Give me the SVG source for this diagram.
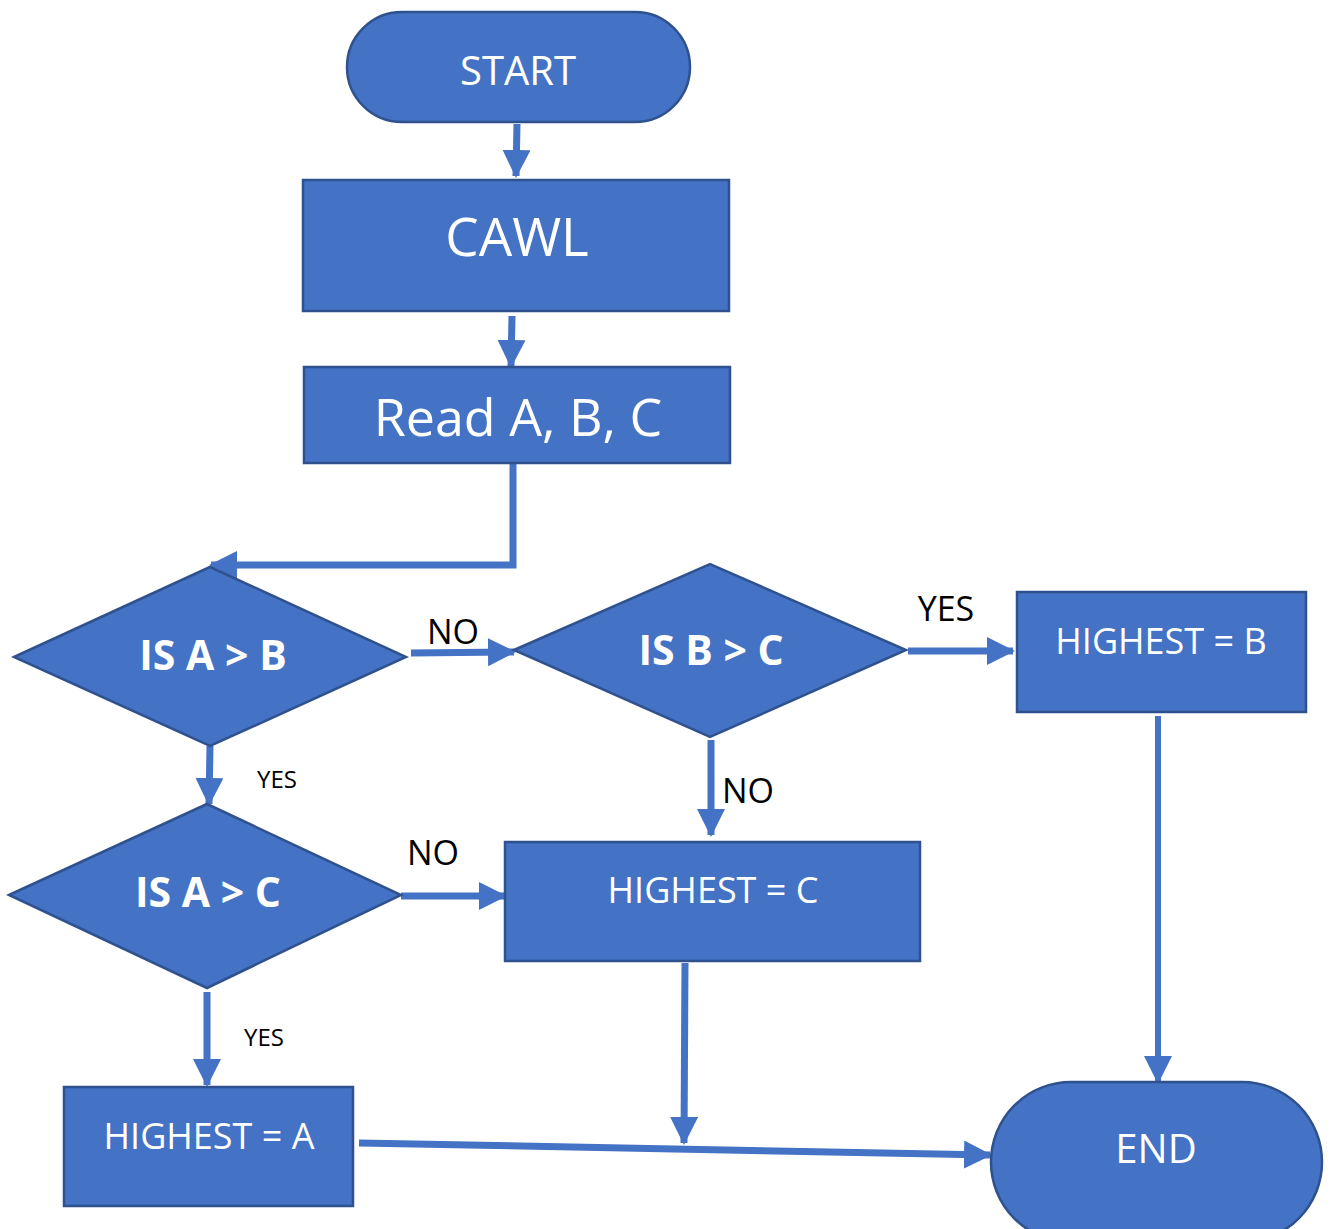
<svg xmlns="http://www.w3.org/2000/svg" width="1333" height="1229" viewBox="0 0 1333 1229">
<defs>
<style>
.n{fill:#4472C4;stroke:#2F528F;stroke-width:2.5}
.t{fill:#fff;font-family:"Open Sans","Liberation Sans",sans-serif;text-anchor:middle;dominant-baseline:central}
.b{font-weight:bold}
.c{fill:none;stroke:#4472C4;stroke-width:7}
.l{fill:#000;font-family:"Open Sans","Liberation Sans",sans-serif;text-anchor:middle;dominant-baseline:central}
</style>
<marker id="ah" markerUnits="userSpaceOnUse" viewBox="0 0 28 28" refX="26" refY="14" markerWidth="28" markerHeight="28" orient="auto">
<path d="M0,0 L28,14 L0,28 Z" fill="#4472C4"/>
</marker>
</defs>
<rect width="1333" height="1229" fill="#fff"/>
<g id="connectors">
<path class="c" d="M517,124 L516,176" marker-end="url(#ah)"/>
<path class="c" d="M512,316 L511,366" marker-end="url(#ah)"/>
<path class="c" d="M513,463 L513,565 L211,565" marker-end="url(#ah)"/>
<path class="c" d="M411,653 L514,652" marker-end="url(#ah)"/>
<path class="c" d="M908,651 L1013,651" marker-end="url(#ah)"/>
<path class="c" d="M1158,716 L1158,1082" marker-end="url(#ah)" style="stroke-width:6"/>
<path class="c" d="M711,740 L711,835" marker-end="url(#ah)"/>
<path class="c" d="M210,746 L209,804" marker-end="url(#ah)"/>
<path class="c" d="M401,896 L505,896" marker-end="url(#ah)"/>
<path class="c" d="M685,963 L684,1143" marker-end="url(#ah)"/>
<path class="c" d="M207,992 L207,1085" marker-end="url(#ah)"/>
<path class="c" d="M359,1143 L990,1155" marker-end="url(#ah)"/>
<text class="l" x="453" y="631" font-size="34">NO</text>
<text class="l" x="946" y="608" font-size="34">YES</text>
<text class="l" x="748" y="790" font-size="34">NO</text>
<text class="l" x="277" y="778" font-size="24">YES</text>
<text class="l" x="433" y="852" font-size="34">NO</text>
<text class="l" x="264" y="1036" font-size="24">YES</text>
</g>
<g id="start"><rect class="n" x="347" y="12" width="343" height="110" rx="55"/><text class="t" x="518" y="69" font-size="40">START</text></g>
<g id="cawl"><rect class="n" x="303" y="180" width="426" height="131"/><text class="t" x="517" y="235" font-size="53">CAWL</text></g>
<g id="read"><rect class="n" x="304" y="367" width="426" height="96"/><text class="t" x="518" y="415" font-size="52">Read A, B, C</text></g>
<g id="isAgtB"><polygon class="n" points="14,657 210,567 406,657 210,746"/><text class="t b" x="213" y="654" font-size="41">IS A &gt; B</text></g>
<g id="isBgtC"><polygon class="n" points="514,650 710,564 906,650 710,737"/><text class="t b" x="711" y="649" font-size="41">IS B &gt; C</text></g>
<g id="highB"><rect class="n" x="1017" y="592" width="289" height="120"/><text class="t" x="1161" y="640" font-size="36">HIGHEST = B</text></g>
<g id="isAgtC"><polygon class="n" points="9,895 207,804 401,895 207,988"/><text class="t b" x="208" y="891" font-size="41">IS A &gt; C</text></g>
<g id="highC"><rect class="n" x="505" y="842" width="415" height="119"/><text class="t" x="713" y="889" font-size="36">HIGHEST = C</text></g>
<g id="highA"><rect class="n" x="64" y="1087" width="289" height="119"/><text class="t" x="209" y="1135" font-size="36">HIGHEST = A</text></g>
<g id="end"><rect class="n" x="991" y="1082" width="331" height="160" rx="80"/><text class="t" x="1156" y="1147" font-size="40">END</text></g>
</svg>
